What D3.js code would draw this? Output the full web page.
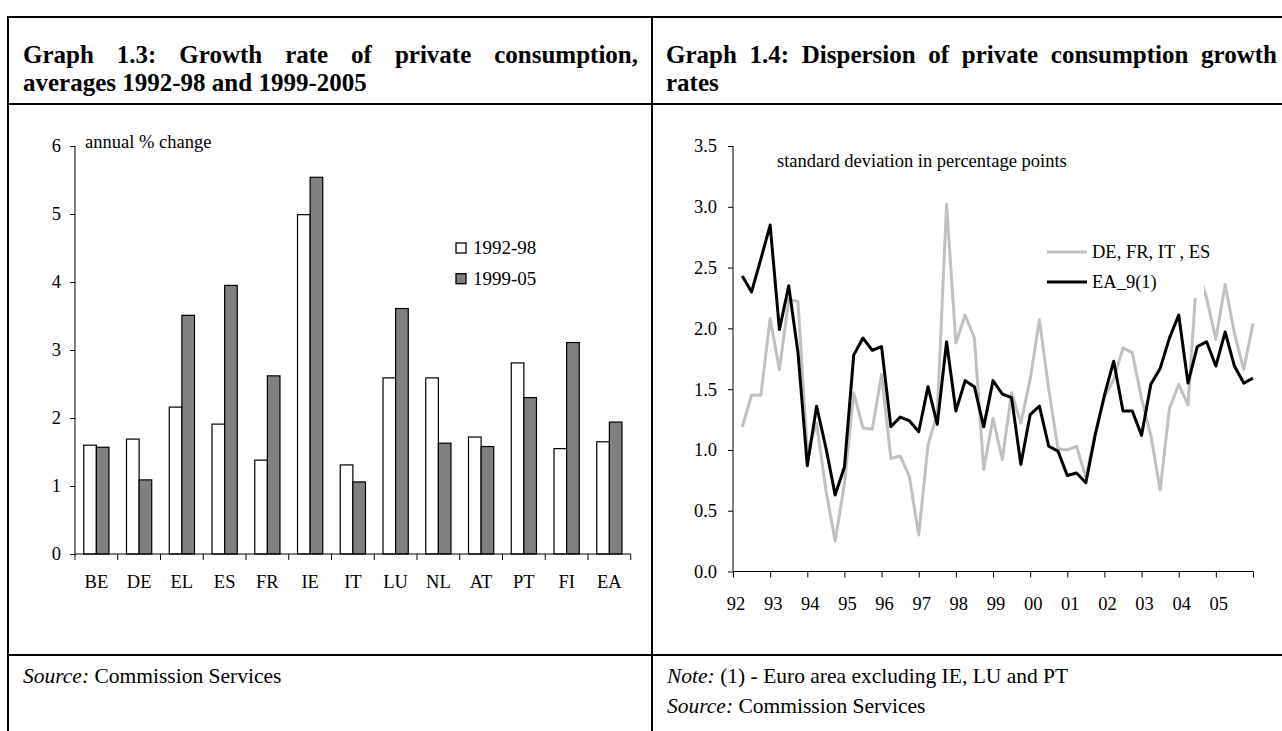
<!DOCTYPE html>
<html>
<head>
<meta charset="utf-8">
<script src="https://cdn.jsdelivr.net/npm/d3@7"></script>
<style>
  body { margin: 0; background: #fff; }
  text { font-family: "Liberation Serif", "Times New Roman", serif; fill: #000; }
</style>
</head>
<body>
<script>
//two panels: bar chart of consumption growth, line chart of dispersion

/*data for graph 1.3*/
var countries = ["BE","DE","EL","ES","FR","IE","IT","LU","NL","AT","PT","FI","EA"];
var growth9298 = [1.60, 1.69, 2.16, 1.91, 1.38, 4.99, 1.31, 2.59, 2.59, 1.72, 2.81, 1.55, 1.65];
var growth9905 = [1.57, 1.09, 3.51, 3.95, 2.62, 5.54, 1.06, 3.61, 1.63, 1.58, 2.30, 3.11, 1.94];
var barTicks = [0, 1, 2, 3, 4, 5, 6];
var barSeries = ["1992-98", "1999-05"];

/*data for graph 1.4, quarterly 1992q1 - 2005q4*/
var yearLabels = ["92","93","94","95","96","97","98","99","00","01","02","03","04","05"];
var big4 = [1.19, 1.45, 1.45, 2.08, 1.66, 2.24, 2.22, 0.98,
            1.22, 0.67, 0.25, 0.72, 1.47, 1.18, 1.17, 1.62,
            0.93, 0.95, 0.78, 0.30, 1.04, 1.30, 3.02, 1.88,
            2.11, 1.92, 0.84, 1.26, 0.92, 1.47, 1.22, 1.58,
            2.07, 1.50, 1.01, 1.00, 1.03, 0.77, 1.14, 1.43,
            1.58, 1.84, 1.80, 1.42, 1.12, 0.67, 1.34, 1.54,
            1.37, 2.50, 2.25, 1.91, 2.36, 1.96, 1.66, 2.04];
var ea9 = [2.43, 2.30, 2.57, 2.85, 1.99, 2.35, 1.80, 0.87,
           1.36, 1.02, 0.63, 0.86, 1.78, 1.92, 1.82, 1.85,
           1.19, 1.27, 1.24, 1.15, 1.52, 1.21, 1.89, 1.32,
           1.57, 1.52, 1.19, 1.57, 1.46, 1.43, 0.88, 1.29,
           1.36, 1.03, 0.99, 0.79, 0.81, 0.73, 1.12, 1.45,
           1.73, 1.32, 1.32, 1.12, 1.54, 1.67, 1.92, 2.11,
           1.55, 1.85, 1.89, 1.69, 1.97, 1.69, 1.55, 1.59];
var dispTicks = [0, 0.5, 1, 1.5, 2, 2.5, 3, 3.5];
var lineSeries = ["DE, FR, IT , ES", "EA_9(1)"];

var w = 1282, h = 731;

window.onload = function(){

    var svg = d3.select("body")
        .append("svg")
        .attr("width", w)
        .attr("height", h);

    svg.append("rect")
        .attr("width", w)
        .attr("height", h)
        .style("fill", "#fff");

    //table frame
    var frame = [
        [8, 17, 1282, 17],
        [8, 104, 1282, 104],
        [8, 655, 1282, 655],
        [8, 16, 8, 731],
        [652, 16, 652, 731]
    ];
    svg.selectAll(".frame")
        .data(frame)
        .enter()
        .append("line")
        .attr("class", "frame")
        .attr("x1", function(d){ return d[0]; })
        .attr("y1", function(d){ return d[1]; })
        .attr("x2", function(d){ return d[2]; })
        .attr("y2", function(d){ return d[3]; })
        .style("stroke", "#000")
        .style("stroke-width", 2);

    //titles, first line justified like the report
    function justify(sel, right){
        var len = sel.node().getComputedTextLength();
        var gaps = sel.text().split(" ").length - 1;
        var x0 = +sel.attr("x");
        sel.attr("word-spacing", (right - x0 - len) / gaps);
    }

    var titleSize = "25px";
    var t1 = svg.append("text")
        .attr("x", 23).attr("y", 63)
        .style("font-size", titleSize).style("font-weight", "bold")
        .text("Graph 1.3: Growth rate of private consumption,");
    justify(t1, 638);
    svg.append("text")
        .attr("x", 23).attr("y", 91)
        .style("font-size", titleSize).style("font-weight", "bold")
        .text("averages 1992-98 and 1999-2005");

    var t2 = svg.append("text")
        .attr("x", 666).attr("y", 63)
        .style("font-size", titleSize).style("font-weight", "bold")
        .text("Graph 1.4: Dispersion of private consumption growth");
    justify(t2, 1277);
    svg.append("text")
        .attr("x", 666).attr("y", 91)
        .style("font-size", titleSize).style("font-weight", "bold")
        .text("rates");

    //footers
    var footSize = "21.5px";
    var f1 = svg.append("text")
        .attr("x", 23).attr("y", 683)
        .style("font-size", footSize);
    f1.append("tspan").style("font-style", "italic").text("Source:");
    f1.append("tspan").text(" Commission Services");

    var f2 = svg.append("text")
        .attr("x", 667).attr("y", 683)
        .style("font-size", footSize);
    f2.append("tspan").style("font-style", "italic").text("Note:");
    f2.append("tspan").text(" (1) - Euro area excluding IE, LU and PT");

    var f3 = svg.append("text")
        .attr("x", 667).attr("y", 713)
        .style("font-size", footSize);
    f3.append("tspan").style("font-style", "italic").text("Source:");
    f3.append("tspan").text(" Commission Services");

    var axisSize = "18.5px";

    /* ---------- graph 1.3 bars ---------- */
    var x1 = d3.scaleBand()
        .domain(countries)
        .range([75, 630.75]);

    var y1 = d3.scaleLinear()
        .domain([0, 6])
        .range([554, 146]);

    var barW = x1.bandwidth() * 0.295;
    var barData = countries.map(function(c, i){
        return { country: c, v: [growth9298[i], growth9905[i]] };
    });
    var barFill = ["#ffffff", "#808080"];

    [0, 1].forEach(function(s){
        svg.selectAll(".bar" + s)
            .data(barData)
            .enter()
            .append("rect")
            .attr("class", "bar" + s)
            .attr("x", function(d){
                return x1(d.country) + x1.bandwidth() / 2 - barW + s * barW;
            })
            .attr("y", function(d){ return y1(d.v[s]); })
            .attr("width", barW)
            .attr("height", function(d){ return y1(0) - y1(d.v[s]); })
            .style("fill", barFill[s])
            .style("stroke", "#000")
            .style("stroke-width", 1.2);
    });

    //y axis
    var yAxis1 = d3.axisLeft(y1)
        .tickValues(barTicks)
        .tickSize(5)
        .tickPadding(9)
        .tickFormat(d3.format("d"));
    var ax1 = svg.append("g")
        .attr("class", "axis")
        .attr("transform", "translate(75,0)")
        .call(yAxis1);
    ax1.select(".domain").attr("d", "M0," + y1(6) + "V" + y1(0));

    //x axis, ticks on category boundaries
    var xAxis1 = svg.append("g")
        .attr("class", "axis");
    xAxis1.append("line")
        .attr("x1", 75).attr("x2", 630.75)
        .attr("y1", y1(0)).attr("y2", y1(0))
        .style("stroke", "#000");
    xAxis1.selectAll(".xt")
        .data(countries.concat(["end"]))
        .enter()
        .append("line")
        .attr("class", "xt")
        .attr("x1", function(d, i){ return 75 + i * x1.step(); })
        .attr("x2", function(d, i){ return 75 + i * x1.step(); })
        .attr("y1", y1(0)).attr("y2", y1(0) + 6)
        .style("stroke", "#000");
    xAxis1.selectAll(".xl")
        .data(countries)
        .enter()
        .append("text")
        .attr("class", "xl")
        .attr("text-anchor", "middle")
        .attr("x", function(d){ return x1(d) + x1.bandwidth() / 2; })
        .attr("y", 588)
        .style("font-size", axisSize)
        .text(function(d){ return d; });

    svg.append("text")
        .attr("x", 85).attr("y", 148)
        .style("font-size", axisSize)
        .text("annual % change");

    //legend
    var leg1 = svg.selectAll(".leg1")
        .data(barSeries)
        .enter()
        .append("g")
        .attr("class", "leg1")
        .attr("transform", function(d, i){ return "translate(456," + (243 + i * 30.7) + ")"; });
    leg1.append("rect")
        .attr("width", 10).attr("height", 10)
        .style("fill", function(d, i){ return barFill[i]; })
        .style("stroke", "#000")
        .style("stroke-width", 1.3);
    leg1.append("text")
        .attr("x", 17).attr("y", 11)
        .style("font-size", "19px")
        .text(function(d){ return d; });

    /* ---------- graph 1.4 lines ---------- */
    var x2 = d3.scaleLinear()
        .domain([0, 56])
        .range([733, 1253]);

    var y2 = d3.scaleLinear()
        .domain([0, 3.5])
        .range([571.5, 146]);

    var line = d3.line()
        .x(function(d, i){ return x2(i + 1); })
        .y(function(d){ return y2(d); });

    svg.append("path")
        .datum(big4)
        .attr("d", line)
        .style("fill", "none")
        .style("stroke", "#c0c0c0")
        .style("stroke-width", 3)
        .style("stroke-linejoin", "round");

    svg.append("path")
        .datum(ea9)
        .attr("d", line)
        .style("fill", "none")
        .style("stroke", "#000")
        .style("stroke-width", 3)
        .style("stroke-linejoin", "round");

    //y axis
    var yAxis2 = d3.axisLeft(y2)
        .tickValues(dispTicks)
        .tickSize(5)
        .tickPadding(11)
        .tickFormat(d3.format(".1f"));
    var ax2 = svg.append("g")
        .attr("class", "axis")
        .attr("transform", "translate(733,0)")
        .call(yAxis2);
    ax2.select(".domain").attr("d", "M0," + y2(3.5) + "V" + y2(0));

    //x axis, one tick a year
    var xAxis2 = d3.axisBottom(x2)
        .tickValues(d3.range(0, 57, 4))
        .tickSize(6)
        .tickFormat("");
    var ax3 = svg.append("g")
        .attr("class", "axis")
        .attr("transform", "translate(0," + y2(0) + ")")
        .call(xAxis2);
    ax3.select(".domain").attr("d", "M" + x2(0) + ",0H" + x2(56));

    svg.selectAll(".yl")
        .data(yearLabels)
        .enter()
        .append("text")
        .attr("class", "yl")
        .attr("text-anchor", "middle")
        .attr("x", function(d, i){ return x2(i * 4) + 3; })
        .attr("y", 610)
        .style("font-size", axisSize)
        .text(function(d){ return d; });

    svg.append("text")
        .attr("x", 777).attr("y", 167)
        .style("font-size", axisSize)
        .text("standard deviation in percentage points");

    //legend box hides the lines under it
    svg.append("rect")
        .attr("x", 1040).attr("y", 233)
        .attr("width", 164).attr("height", 65)
        .style("fill", "#fff");

    var lineCol = ["#c0c0c0", "#000"];
    var leg2 = svg.selectAll(".leg2")
        .data(lineSeries)
        .enter()
        .append("g")
        .attr("class", "leg2")
        .attr("transform", function(d, i){ return "translate(1047," + (252 + i * 30) + ")"; });
    leg2.append("line")
        .attr("x1", 0).attr("x2", 40)
        .style("stroke", function(d, i){ return lineCol[i]; })
        .style("stroke-width", 3);
    leg2.append("text")
        .attr("x", 45).attr("y", 6)
        .style("font-size", axisSize)
        .text(function(d){ return d; });

    //axis styling
    svg.selectAll(".axis path, .axis line")
        .style("stroke", "#000")
        .style("stroke-width", 1);
    svg.selectAll(".axis .tick text")
        .style("font-size", axisSize)
        .style("font-family", "\"Liberation Serif\", serif")
        .style("fill", "#000");
};
</script>
</body>
</html>
